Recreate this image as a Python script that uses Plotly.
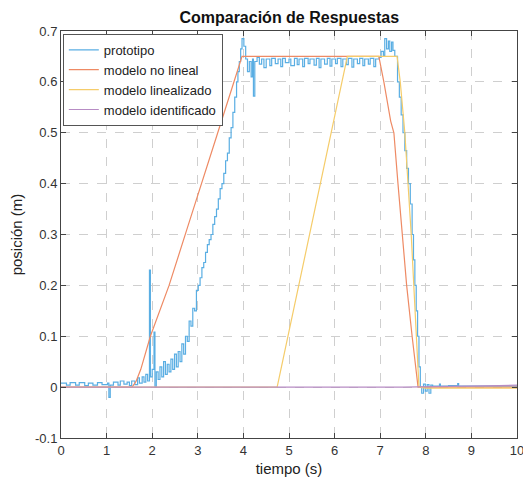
import plotly.graph_objects as go

# ---- measured prototype response (step-held samples) ----
t_proto = [
    0.00, 0.12, 0.20, 0.32, 0.40, 0.52, 0.60, 0.70, 0.80, 0.90, 1.02, 1.05, 1.08, 1.15, 1.25,
    1.30, 1.38, 1.45, 1.50, 1.55, 1.62, 1.68, 1.72, 1.78, 1.82, 1.86, 1.90, 1.94, 1.96, 2.00,
    2.04, 2.06, 2.09, 2.13, 2.17, 2.21, 2.25, 2.29, 2.33, 2.37, 2.41, 2.45, 2.49, 2.53, 2.57,
    2.61, 2.65, 2.69, 2.73, 2.77, 2.81, 2.85, 2.89, 2.93, 2.97, 3.01, 3.05, 3.09, 3.13, 3.17,
    3.21, 3.25, 3.29, 3.33, 3.37, 3.41, 3.45, 3.49, 3.53, 3.57, 3.61, 3.65, 3.69, 3.73, 3.77,
    3.81, 3.85, 3.88, 3.91, 3.94, 3.97, 4.01, 4.05, 4.09, 4.13, 4.17, 4.20, 4.22, 4.25, 4.30,
    4.35, 4.40, 4.45, 4.50, 4.58, 4.62, 4.70, 4.76, 4.82, 4.86, 4.92, 5.00, 5.04, 5.12, 5.18,
    5.22, 5.30, 5.34, 5.42, 5.46, 5.55, 5.60, 5.66, 5.70, 5.78, 5.84, 5.90, 5.94, 6.02, 6.06,
    6.14, 6.18, 6.26, 6.30, 6.38, 6.42, 6.50, 6.55, 6.62, 6.66, 6.74, 6.78, 6.86, 6.90, 6.98,
    7.02, 7.07, 7.10, 7.14, 7.18, 7.21, 7.25, 7.28, 7.32, 7.38, 7.42, 7.46, 7.50, 7.54, 7.58,
    7.62, 7.66, 7.70, 7.73, 7.76, 7.79, 7.82, 7.85, 7.88, 7.91, 7.95, 7.99, 8.03, 8.07, 8.11,
    8.15, 8.30, 8.32, 8.50, 8.70, 8.72, 9.00, 10.00,
]
y_proto = [
    0.008, 0.004, 0.009, 0.004, 0.009, 0.003, 0.008, 0.004, 0.009, 0.005, 0.008, -0.020, 0.004, 0.010, 0.004,
    0.012, 0.006, 0.010, 0.003, 0.012, 0.005, 0.018, 0.008, 0.020, 0.010, 0.025, 0.012, 0.230, 0.020, 0.035,
    0.108, 0.000, 0.030, 0.015, 0.040, 0.020, 0.050, 0.025, 0.045, 0.030, 0.055, 0.035, 0.065, 0.040, 0.070,
    0.050, 0.085, 0.065, 0.100, 0.090, 0.130, 0.120, 0.155, 0.150, 0.190, 0.200, 0.215, 0.235, 0.245, 0.265,
    0.280, 0.290, 0.300, 0.320, 0.335, 0.350, 0.370, 0.390, 0.400, 0.420, 0.445, 0.460, 0.490, 0.510, 0.540,
    0.570, 0.600, 0.620, 0.640, 0.665, 0.685, 0.670, 0.645, 0.620, 0.640, 0.610, 0.645, 0.572, 0.640, 0.648,
    0.635, 0.645, 0.628, 0.645, 0.632, 0.646, 0.636, 0.645, 0.630, 0.646, 0.638, 0.645, 0.632, 0.646, 0.634,
    0.645, 0.630, 0.646, 0.636, 0.645, 0.633, 0.646, 0.628, 0.645, 0.635, 0.646, 0.631, 0.645, 0.636, 0.646,
    0.630, 0.645, 0.634, 0.646, 0.629, 0.645, 0.636, 0.646, 0.632, 0.645, 0.635, 0.646, 0.630, 0.645, 0.648,
    0.660, 0.652, 0.685, 0.665, 0.680, 0.660, 0.678, 0.662, 0.650, 0.600, 0.570, 0.535, 0.500, 0.465, 0.430,
    0.400, 0.360, 0.300, 0.250, 0.200, 0.150, 0.100, 0.040, 0.000, -0.012, 0.006, -0.008, 0.005, -0.012, 0.004,
    0.002, 0.006, 0.002, 0.003, 0.007, 0.002, 0.002, 0.002,
]

# ---- simulated model responses ----
t_nolineal = [0.0, 1.56, 1.65, 1.75, 1.96, 2.37, 2.75, 3.09, 3.42, 3.75, 3.97, 6.97, 7.08, 7.23, 7.30, 7.39, 7.49, 7.58, 7.70, 7.83, 10.0]
y_nolineal = [0.0, 0.0, 0.012, 0.035, 0.100, 0.200, 0.307, 0.400, 0.495, 0.588, 0.650, 0.650, 0.600, 0.523, 0.500, 0.400, 0.300, 0.200, 0.100, 0.000, 0.000]

t_lineal = [0.0, 4.74, 6.28, 7.37, 7.44, 7.54, 7.68, 7.79, 7.85, 8.0, 10.0]
y_lineal = [0.0, 0.0, 0.650, 0.650, 0.600, 0.500, 0.300, 0.100, 0.000, -0.002, -0.002]

t_ident = [0.0, 7.5, 9.6, 10.0]
y_ident = [0.0, 0.0, 0.003, 0.004]

x_ticks = list(range(0, 11))
y_ticks = [-0.1, 0, 0.1, 0.2, 0.3, 0.4, 0.5, 0.6, 0.7]
y_tick_text = ["-0.1", "0", "0.1", "0.2", "0.3", "0.4", "0.5", "0.6", "0.7"]

FONT = "Liberation Sans, Arial"

fig = go.Figure()
fig.add_trace(go.Scatter(x=t_proto, y=y_proto, mode="lines", name="prototipo",
                         line=dict(color="#5aaee3", width=1.2, shape="hv")))
fig.add_trace(go.Scatter(x=t_nolineal, y=y_nolineal, mode="lines", name="modelo no lineal",
                         line=dict(color="#ee8a64", width=1.2)))
fig.add_trace(go.Scatter(x=t_lineal, y=y_lineal, mode="lines", name="modelo linealizado",
                         line=dict(color="#f5cc6a", width=1.2)))
fig.add_trace(go.Scatter(x=t_ident, y=y_ident, mode="lines", name="modelo identificado",
                         line=dict(color="#b78cc4", width=1.2)))

axis_common = dict(
    showgrid=True, gridcolor="#cfcfcf", griddash="dash", gridwidth=1,
    showline=True, linecolor="#444444", linewidth=1, mirror="ticks",
    ticks="inside", ticklen=5, tickcolor="#444444",
    zeroline=False, automargin=False, ticklabeloverflow="allow",
    tickfont=dict(family=FONT, size=13, color="#333333"),
)

fig.update_layout(
    width=523, height=490,
    margin=dict(l=61, r=6, t=31, b=52),
    paper_bgcolor="white", plot_bgcolor="white",
    title=dict(text="<b>Comparación de Respuestas</b>", x=0.553, xanchor="center", y=0.965, yanchor="middle",
               font=dict(family=FONT, size=16, color="#111111")),
    xaxis=dict(range=[0, 10], tickvals=x_ticks,
               title=dict(text="tiempo (s)", standoff=6,
                          font=dict(family=FONT, size=15, color="#222222")),
               **axis_common),
    yaxis=dict(range=[-0.1, 0.7], tickvals=y_ticks, ticktext=y_tick_text,
               title=dict(text="posición (m)", standoff=8,
                          font=dict(family=FONT, size=15, color="#222222")),
               **axis_common),
    legend=dict(x=0.004, y=0.993, xanchor="left", yanchor="top",
                bgcolor="white", bordercolor="#555555", borderwidth=1,
                font=dict(family=FONT, size=13, color="#222222"),
                tracegroupgap=0, itemwidth=30,
                entrywidth=170, entrywidthmode="pixels"),
    showlegend=True,
)

fig.write_html("out.html")
